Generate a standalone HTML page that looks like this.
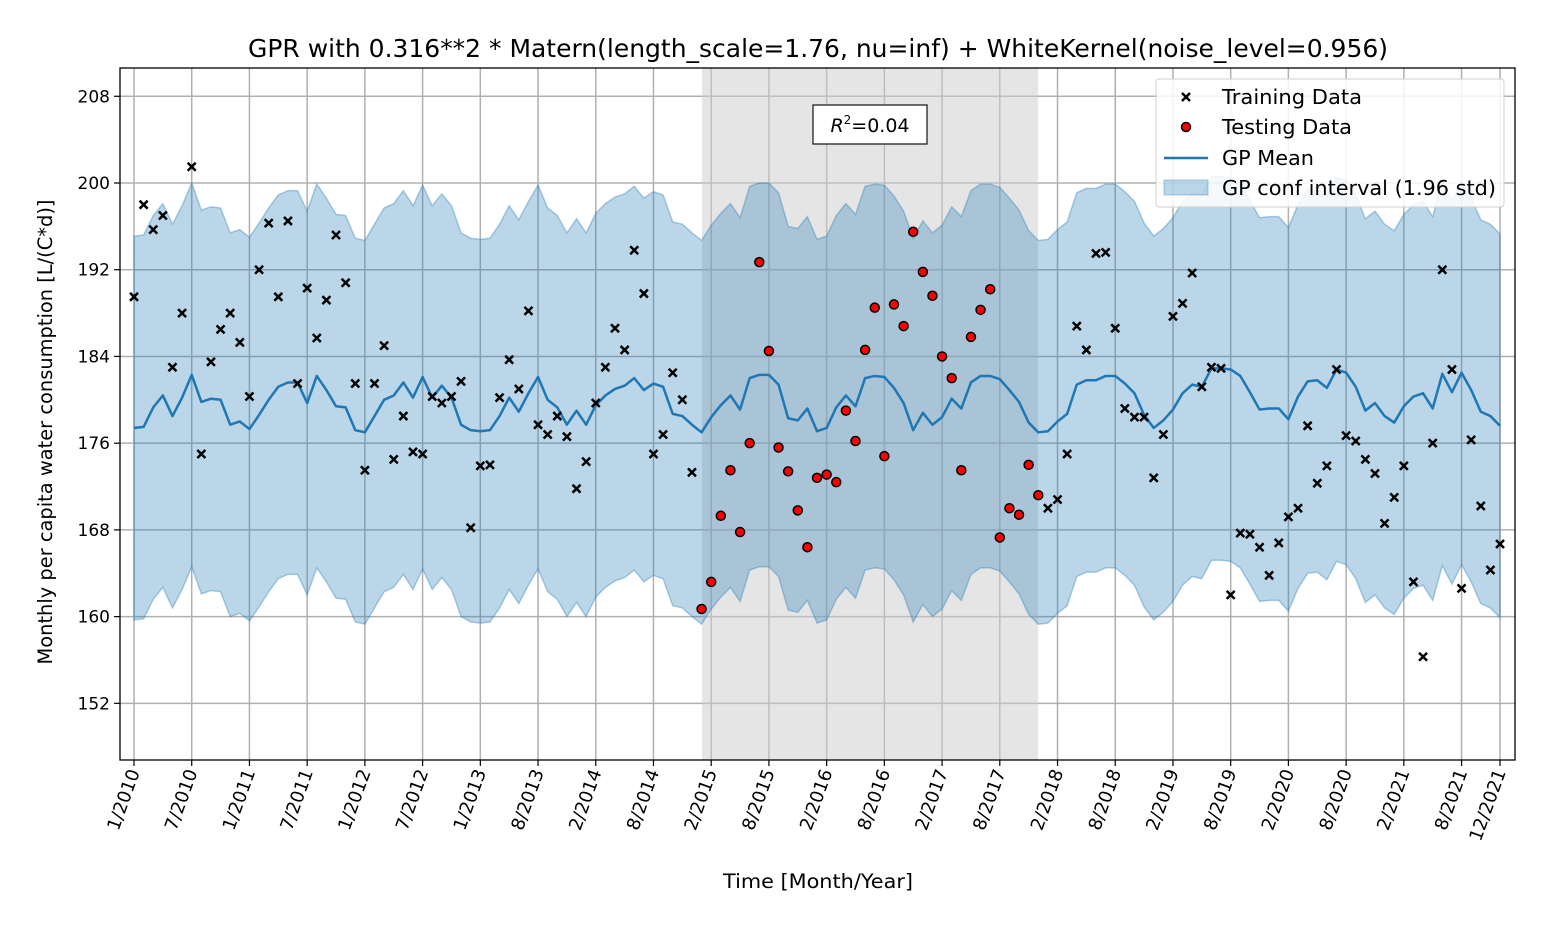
<!DOCTYPE html>
<html><head><meta charset="utf-8"><style>
html,body{margin:0;padding:0;background:#fff;}
svg{display:block;font-family:"DejaVu Sans","Liberation Sans",sans-serif;}
</style></head><body>
<svg id="chart" width="1563" height="930" viewBox="0 0 1563 930" xmlns="http://www.w3.org/2000/svg">
<rect width="1563" height="930" fill="#fff"/>
<text x="818" y="57" text-anchor="middle" font-size="24.5" fill="#000" textLength="1140" lengthAdjust="spacingAndGlyphs">GPR with 0.316**2 * Matern(length_scale=1.76, nu=inf) + WhiteKernel(noise_level=0.956)</text>
<g id="grid"></g>
<rect x="702" y="68" width="336" height="692" fill="#cccccc" fill-opacity="0.5"/>
<g id="band"></g>
<g id="meanline"></g>
<g id="points"></g>
<rect x="120" y="68" width="1395" height="692" fill="none" stroke="#000" stroke-width="1.3"/>
<g id="yticks"></g>
<g id="xticks"></g>
<text transform="translate(52,432) rotate(-90)" text-anchor="middle" font-size="19.5" textLength="465" lengthAdjust="spacingAndGlyphs">Monthly per capita water consumption [L/(C*d)]</text>
<text x="818" y="888" text-anchor="middle" font-size="19.5" textLength="190" lengthAdjust="spacingAndGlyphs">Time [Month/Year]</text>
<g>
<rect x="813" y="105" width="114" height="39" fill="#fff" stroke="#222" stroke-width="1.3"/>
<text x="870" y="132" text-anchor="middle" font-size="19"><tspan font-style="italic">R</tspan><tspan font-size="12" dy="-8">2</tspan><tspan dy="8">=0.04</tspan></text>
</g>
<g>
<rect x="1156" y="79" width="348" height="128" rx="3" fill="#fff" fill-opacity="0.85" stroke="#d0d0d0"/>
<g><path d="M1182 93 l8 8 M1190 93 l-8 8" stroke="#000" stroke-width="2.5"/><text x="1222" y="104" font-size="20" textLength="140" lengthAdjust="spacingAndGlyphs">Training Data</text></g>
<g><circle cx="1186" cy="127" r="4.5" fill="red" stroke="#000" stroke-width="1.5"/><text x="1222" y="134" font-size="20" textLength="130" lengthAdjust="spacingAndGlyphs">Testing Data</text></g>
<g><line x1="1164" y1="158" x2="1208" y2="158" stroke="#1f77b4" stroke-width="2.5"/><text x="1222" y="165" font-size="20" textLength="92" lengthAdjust="spacingAndGlyphs">GP Mean</text></g>
<g><rect x="1164" y="180" width="44" height="15" fill="#1f77b4" fill-opacity="0.3" stroke="#1f77b4" stroke-opacity="0.35"/><text x="1222" y="195" font-size="20" textLength="274" lengthAdjust="spacingAndGlyphs">GP conf interval (1.96 std)</text></g>
</g>
</svg>
<script>
const values = [189.5,198,195.7,197,183,188,201.5,175,183.5,186.5,188,185.3,180.3,192,196.3,189.5,196.5,181.5,190.3,185.7,189.2,195.2,190.8,181.5,173.5,181.5,185,174.5,178.5,175.2,175,180.3,179.7,180.3,181.7,168.2,173.9,174,180.2,183.7,181,188.2,177.7,176.8,178.5,176.6,171.8,174.3,179.7,183,186.6,184.6,193.8,189.8,175,176.8,182.5,180,173.3,160.7,163.2,169.3,173.5,167.8,176,192.7,184.5,175.6,173.4,169.8,166.4,172.8,173.1,172.4,179,176.2,184.6,188.5,174.8,188.8,186.8,195.5,191.8,189.6,184,182,173.5,185.8,188.3,190.2,167.3,170,169.4,174,171.2,170,170.8,175,186.8,184.6,193.5,193.6,186.6,179.2,178.4,178.4,172.8,176.8,187.7,188.9,191.7,181.2,183,182.9,162,167.7,167.6,166.4,163.8,166.8,169.2,170,177.6,172.3,173.9,182.8,176.7,176.2,174.5,173.2,168.6,171,173.9,163.2,156.3,176,192,182.8,162.6,176.3,170.2,164.3,166.7];
const isTest = values.map((v,i)=> i>=59 && i<=94);
const meanVals = [177.4,177.5,179.3,180.4,178.5,180.2,182.3,179.8,180.1,180,177.7,178,177.3,178.6,180,181.2,181.6,181.6,179.7,182.2,180.9,179.4,179.3,177.2,177,178.5,180,180.4,181.6,180.2,182.1,180.2,181.3,180.2,177.7,177.2,177.1,177.2,178.5,180.2,178.9,180.6,182.1,180,179.3,177.7,179,177.7,179.5,180.4,181,181.3,182,180.9,181.5,181.2,178.7,178.5,177.7,177,178.4,179.5,180.4,179.1,182,182.3,182.3,181.4,178.3,178.1,179.2,177.1,177.4,179.3,180.4,179.4,182,182.2,182.1,181.1,179.7,177.2,178.8,177.7,178.4,180.1,179.2,181.6,182.2,182.2,181.9,180.9,179.8,177.9,177,177.1,178,178.7,181.4,181.8,181.8,182.2,182.2,181.5,180.6,178.6,177.4,178.1,179.1,180.6,181.4,181.2,182.9,182.9,182.8,182.2,180.7,179.1,179.2,179.2,178.2,180.3,181.7,181.8,181.1,182.8,182.5,181.2,179,179.7,178.5,177.9,179.4,180.3,180.6,179.2,182.4,180.7,182.5,180.9,178.9,178.5,177.6];
const halfWidth = 17.7;
const yTicks = [152,160,168,176,184,192,200,208];
const xTickIdx = [0,6,12,18,24,30,36,42,48,54,60,66,72,78,84,90,96,102,108,114,120,126,132,138,142];
const xTickLabels = ["1/2010","7/2010","1/2011","7/2011","1/2012","7/2012","1/2013","8/2013","2/2014","8/2014","2/2015","8/2015","2/2016","8/2016","2/2017","8/2017","2/2018","8/2018","2/2019","8/2019","2/2020","8/2020","2/2021","8/2021","12/2021"];

const NS="http://www.w3.org/2000/svg";
const xs = i => 134 + i*9.62;
const ys = v => 183 + (200 - v)*10.84;
function mk(tag, attrs, parent){const e=document.createElementNS(NS,tag);for(const k in attrs)e.setAttribute(k,attrs[k]);parent.appendChild(e);return e;}
const grid=document.getElementById('grid'), band=document.getElementById('band'), ml=document.getElementById('meanline'), pts=document.getElementById('points'), yt=document.getElementById('yticks'), xt=document.getElementById('xticks');

yTicks.forEach(t=>{
  const y=ys(t);
  const g=mk('line',{x1:120,x2:1515,y1:y,y2:y,stroke:'#b0b0b0','stroke-width':1.5},grid);
  
  
  mk('line',{x1:114,x2:120,y1:y,y2:y,stroke:'#000','stroke-width':1.2},yt);
  const tx=mk('text',{x:110,y:y+6,'text-anchor':'end','font-size':17},yt);
  tx.textContent=t;
  
  
});
xTickIdx.forEach((ix,k)=>{
  const x=xs(ix);
  const g=mk('line',{x1:x,x2:x,y1:68,y2:760,stroke:'#b0b0b0','stroke-width':1.5},grid);
  
  
  mk('line',{x1:x,x2:x,y1:760,y2:766,stroke:'#000','stroke-width':1.2},xt);
  const tx=mk('text',{transform:`translate(${x+6},772) rotate(-70)`,'text-anchor':'end','font-size':18},xt);
  tx.textContent=xTickLabels[k];
  
  
});

let up=[],lo=[];
meanVals.forEach((m,i)=>{up.push(xs(i)+','+ys(m+halfWidth));lo.push(xs(i)+','+ys(m-halfWidth));});
const poly=mk('polygon',{points:up.concat(lo.reverse()).join(' '),fill:'#1f77b4','fill-opacity':0.3,stroke:'#1f77b4','stroke-opacity':0.35,'stroke-width':1.5},band);


const line=mk('polyline',{points:meanVals.map((m,i)=>xs(i)+','+ys(m)).join(' '),fill:'none',stroke:'#1f77b4','stroke-width':2.5,'stroke-linejoin':'round'},ml);



values.forEach((v,i)=>{
  const x=xs(i), y=ys(v);
  if(isTest[i]){
    const c=mk('circle',{cx:x,cy:y,r:4.5,fill:'red',stroke:'#000','stroke-width':1.5},pts);
    
    
  } else {
    const p=mk('path',{d:`M${x-4} ${y-4} L${x+4} ${y+4} M${x+4} ${y-4} L${x-4} ${y+4}`,stroke:'#000','stroke-width':2.5},pts);
    
    
  }
});
</script>
</body></html>
